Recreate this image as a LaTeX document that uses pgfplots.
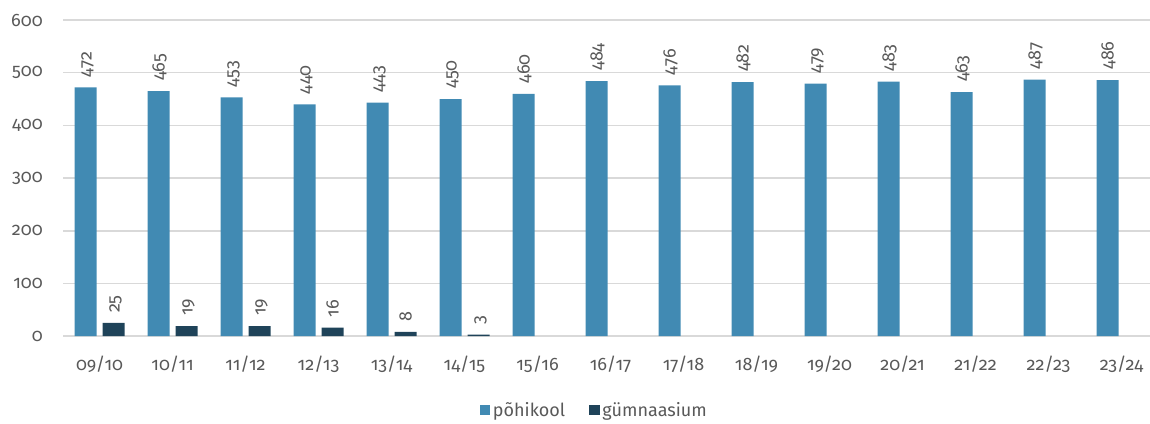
\documentclass[border=0pt]{standalone}
\usepackage{fontspec}
\setmainfont{Fira Sans}[Numbers=OldStyle]
\usepackage{pgfplots}
\pgfplotsset{compat=1.18}
\definecolor{bluebar}{HTML}{418AB3}
\definecolor{darkbar}{HTML}{1F4359}
\definecolor{gridgray}{HTML}{D9D9D9}
\definecolor{textgray}{HTML}{595959}
\begin{document}
\begin{tikzpicture}
\begin{axis}[
  scale only axis,
  width=815pt, height=237pt,
  ybar=4.5pt, bar width=16.5pt,
  ymin=0, ymax=600, ytick={0,100,...,600},
  xmin=-0.5, xmax=14.39,
  xtick={0,...,14},
  xticklabels={09/10,10/11,11/12,12/13,13/14,14/15,15/16,16/17,17/18,18/19,19/20,20/21,21/22,22/23,23/24},
  axis line style={draw=none},
  major tick length=0pt,
  ymajorgrids, grid style={gridgray, line width=1.2pt},
  tick label style={font=\fontsize{13.5}{15}\selectfont, text=textgray},
  /pgf/number format/assume math mode=true,
  yticklabel style={inner sep=0pt, xshift=-15pt},
  xticklabel style={inner sep=0pt, yshift=-15pt},
  nodes near coords,
  every node near coord/.append style={rotate=90, anchor=west, font=\fontsize{13.5}{15}\selectfont,
    text=textgray, text height=9pt, text depth=0pt, inner ysep=0pt, inner xsep=7.5pt},
  legend style={at={(0.489,-0.234)}, anchor=center, draw=none, legend columns=2,
    font=\fontsize{13.5}{15}\selectfont, text=textgray,
    /tikz/every even column/.append style={column sep=16pt}},
  legend image code/.code={\fill[#1] (0pt,-4pt) rectangle (8pt,4pt);},
]
\addplot[fill=bluebar, draw=none] coordinates {
  (0,472) (1,465) (2,453) (3,440) (4,443) (5,450) (6,460) (7,484)
  (8,476) (9,482) (10,479) (11,483) (12,463) (13,487) (14,486)};
\addplot[fill=darkbar, draw=none] coordinates {
  (0,25) (1,19) (2,19) (3,16) (4,8) (5,3)};
\legend{põhikool, gümnaasium}
\end{axis}
\pgfresetboundingbox
\path ([xshift=-47.25pt, yshift=-65.25pt]current axis.south west)
  rectangle ([yshift=15pt]current axis.north east);
\end{tikzpicture}
\end{document}
